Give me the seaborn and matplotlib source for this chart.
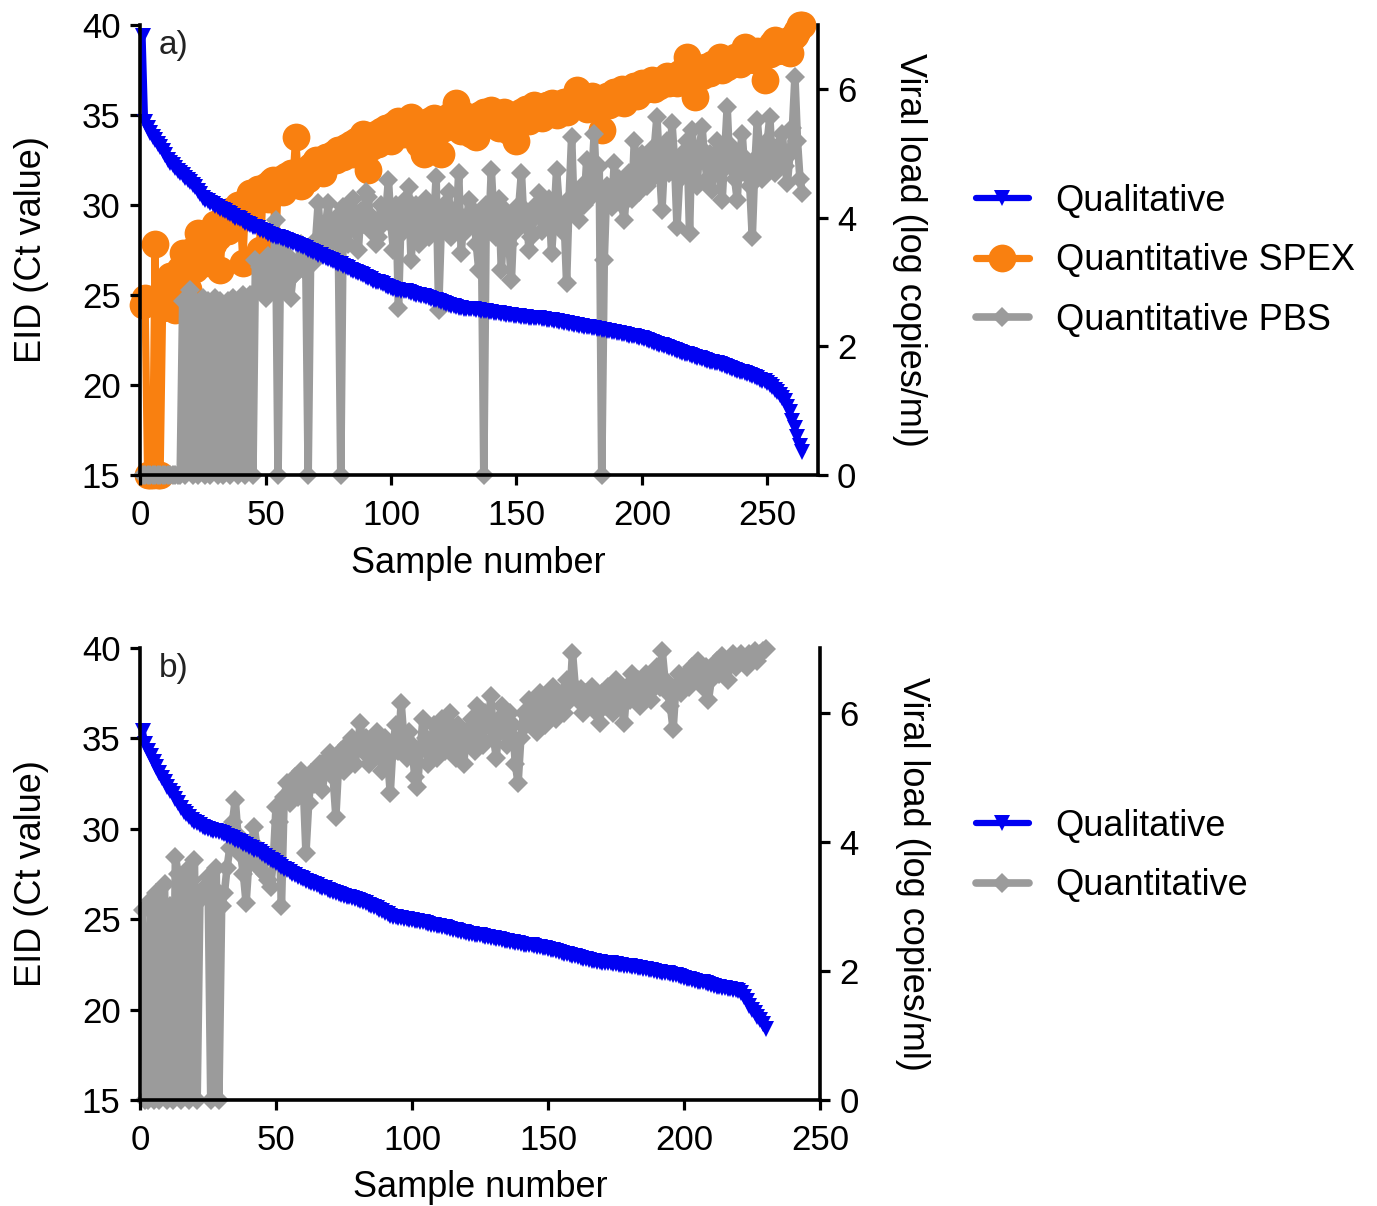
import numpy as np
import pandas as pd
import seaborn as sns
import matplotlib.pyplot as plt

# ---- panel a: 264 samples ----
# EID Ct value (left axis), sorted high to low
qual_a = [
    39.4, 34.6, 34.3, 34.0, 33.8, 33.6, 33.4, 33.2, 33.0, 32.8, 32.5,
    32.35, 32.2, 32.05, 31.9, 31.8, 31.65, 31.5, 31.4, 31.25, 31.1, 31.0, 30.8, 30.6, 30.4,
    30.3, 30.2, 30.1, 30.05, 29.95, 29.9, 29.8, 29.7, 29.65, 29.55, 29.5, 29.4, 29.3,
    29.25, 29.2, 29.1, 29.0, 28.95, 28.9, 28.8, 28.75, 28.7, 28.6, 28.55, 28.5, 28.4,
    28.35, 28.3, 28.25, 28.2, 28.15, 28.1, 28.05, 28.0, 27.95, 27.9, 27.85, 27.8, 27.7,
    27.65, 27.6, 27.5, 27.45, 27.4, 27.35, 27.25, 27.2, 27.1, 27.05, 27.0, 26.95, 26.9, 26.8,
    26.75, 26.7, 26.6, 26.55, 26.5, 26.4, 26.35, 26.3, 26.2, 26.15, 26.1, 26.0,
    25.95, 25.9, 25.8, 25.75, 25.7, 25.65, 25.6, 25.5, 25.45, 25.4,
    25.35, 25.3, 25.3, 25.25, 25.2, 25.2, 25.15, 25.1, 25.05, 25.0, 25.0, 24.95, 24.95, 24.9,
    24.85, 24.8, 24.75, 24.7, 24.65, 24.6, 24.55, 24.5, 24.45, 24.4, 24.4, 24.35, 24.3,
    24.3, 24.25, 24.25, 24.2, 24.2, 24.2, 24.15, 24.15, 24.1, 24.1, 24.1, 24.05, 24.05,
    24.0, 24.0, 24.0, 23.95, 23.95, 23.9, 23.9, 23.9, 23.85, 23.85, 23.85, 23.8, 23.8, 23.8,
    23.75, 23.75, 23.7, 23.7, 23.7, 23.65, 23.65, 23.6, 23.6, 23.6, 23.55, 23.55, 23.5,
    23.5, 23.45, 23.45, 23.4, 23.4, 23.35, 23.35, 23.3, 23.3, 23.25, 23.25, 23.2,
    23.15, 23.15, 23.1, 23.1, 23.05, 23.05, 23.0, 23.0, 22.95, 22.95, 22.9, 22.9, 22.85,
    22.85, 22.8, 22.75, 22.75, 22.7, 22.65, 22.6, 22.6, 22.55, 22.5, 22.45, 22.4,
    22.35, 22.3, 22.25, 22.2, 22.15, 22.1, 22.05, 22.0, 21.95, 21.9, 21.85, 21.8, 21.75,
    21.7, 21.65, 21.6, 21.55, 21.5, 21.5, 21.45, 21.4, 21.35, 21.3, 21.3, 21.25, 21.2,
    21.15, 21.1, 21.05, 21.0, 20.95, 20.9, 20.85, 20.8, 20.75, 20.7, 20.65, 20.6, 20.55,
    20.5, 20.45, 20.4, 20.3, 20.25, 20.2, 20.1,
    20.0, 19.9, 19.75, 19.6, 19.45, 19.3, 19.1, 18.8, 18.5, 18.0, 17.6, 17.1, 16.6, 16.3,
]
# viral load, log copies/ml (right axis)
spex_a = [
    2.65, 2.75, 0, 0, 0, 3.6, 0, 0, 2.6,
    2.75, 2.9, 3.1, 2.6, 2.57, 3.0, 3.2, 3.45, 3.1, 2.9, 3.3, 3.5, 3.2, 3.76, 3.4, 3.6, 3.3,
    3.5, 3.8, 3.6, 3.9,
    3.7, 3.19, 3.95, 4.0, 3.8, 4.1, 4.12, 3.9, 4.2, 4.0, 3.3, 4.25, 4.3, 4.39, 4.2, 4.35,
    4.45, 3.5, 4.4, 4.5, 4.3, 4.55, 4.59, 3.45, 4.5, 4.6, 4.4, 4.65, 4.55, 4.7,
    4.6, 5.26, 4.65, 4.5, 4.7, 4.74, 4.6, 4.8, 4.75, 4.9, 4.8, 4.85, 4.7, 4.95, 4.85, 4.9,
    5.0, 4.9, 5.05, 5.0, 4.95, 5.1, 5.05, 5.15, 5.0, 5.2, 5.1, 5.15, 5.3, 5.26,
    4.74, 5.1, 5.2, 5.3, 5.15, 5.35, 5.25, 5.4, 5.3, 5.2, 5.45, 5.35, 5.5, 5.4, 5.3, 5.45,
    5.5, 5.57, 5.4, 5.3, 5.15, 5.45, 5.0, 5.35, 5.5, 5.4, 5.55, 5.3, 5.45, 5.0,
    5.4, 5.55, 5.5, 5.6, 5.45, 5.79, 5.5, 5.35, 5.6, 5.45, 5.55, 5.3, 5.5, 5.26, 5.6, 5.5,
    5.65, 5.45, 5.55, 5.68, 5.5, 5.6, 5.4, 5.55, 5.65, 5.5, 5.35, 5.6, 5.45, 5.2,
    5.55, 5.65, 5.6, 5.7, 5.5, 5.65, 5.75, 5.6, 5.7, 5.55, 5.65, 5.75, 5.7, 5.78, 5.65, 5.6,
    5.75, 5.7, 5.8, 5.65, 5.75, 5.85, 5.8, 5.99, 5.75, 5.85, 5.78, 5.7, 5.8, 5.9,
    5.75, 5.85, 5.7, 5.37, 5.8, 5.9, 5.75, 5.85, 5.95, 5.8, 5.9, 6.0, 5.78, 5.9, 6.0, 5.95,
    6.05, 5.9, 6.0, 6.1, 6.05, 6.0, 6.1, 6.14, 6.0, 6.1, 6.05, 6.15, 6.1, 6.2,
    6.1, 6.15, 6.2, 6.1, 6.25, 6.2, 6.15, 6.5, 6.25, 6.2, 5.88, 6.3, 6.25, 6.2, 6.35, 6.3,
    6.25, 6.4, 6.3, 6.35, 6.5, 6.3, 6.4, 6.35, 6.45, 6.4, 6.5, 6.45, 6.4, 6.55,
    6.66, 6.45, 6.5, 6.55, 6.45, 6.6, 6.5, 6.55, 6.14, 6.6, 6.55, 6.7, 6.77, 6.6, 6.65, 6.7,
    6.6, 6.75, 6.56, 6.8, 6.85, 6.9, 7.0, 7.0,
]
pbs_a = [
    0, 0, 0, 0, 0, 0, 0, 0, 0, 0, 0, 0, 0, 0, 0, 0,
    2.7, 0, 2.65, 2.88, 0, 2.7, 0, 2.65, 2.75, 0, 2.7, 0, 2.6, 2.75, 0, 2.7, 0, 2.65, 2.7, 0,
    2.75, 2.7, 0, 2.7, 2.8, 0, 2.7,
    2.8, 0, 3.34, 2.9, 3.23, 3.0, 2.75, 3.4, 2.85, 3.1, 3.97, 0, 3.5, 2.9, 3.3, 3.4, 2.75,
    3.1, 3.14, 3.3, 3.6, 3.2, 3.5, 0, 3.45, 3.3, 3.65, 4.23, 3.7, 3.5, 3.9, 4.23, 3.6,
    3.8, 4.0, 3.7, 0, 4.17, 3.9, 3.6, 4.0, 4.3, 3.8, 3.5, 4.1, 3.9, 4.4,
    4.32, 3.8, 4.0, 3.6, 3.7, 4.2, 3.9, 4.1, 4.59, 3.9, 3.5, 4.2, 2.6, 4.0, 3.8, 4.3,
    4.48, 3.34, 3.9, 4.2, 3.6, 4.0, 3.8, 4.3, 3.7, 4.1, 3.9, 4.63, 2.57, 3.8, 4.2, 3.9,
    4.4, 3.7, 4.1, 3.9, 4.7, 3.45, 4.0, 3.8, 4.28, 3.9, 4.1, 3.6, 3.19, 4.0, 0,
    4.2, 3.8, 4.74, 4.0, 3.7, 4.3, 3.19, 3.9, 4.1, 3.6, 3.03, 4.0, 3.8, 4.2, 4.7, 3.9,
    4.1, 3.5, 3.7, 4.0, 4.2, 4.39, 3.8, 4.1, 3.9, 4.3, 3.45, 4.0, 4.74, 4.2, 3.8, 4.0,
    2.99, 4.3, 5.26, 4.1, 4.4, 3.97, 4.5, 4.2, 4.9, 4.3, 4.6, 5.3, 4.4, 4.8, 0,
    3.34, 4.5, 4.3, 4.17, 4.85, 4.4, 4.6, 4.2, 3.97, 4.5, 4.7, 4.3, 5.2, 4.6, 4.4, 5.0,
    4.7, 4.5, 4.9, 4.6, 5.1, 5.57, 4.8, 4.12, 4.9, 5.2, 4.7, 5.47, 4.9, 3.86, 4.6, 5.0,
    4.7, 5.2, 3.76, 5.37, 4.8, 4.5, 5.1, 5.41, 4.9, 4.6, 5.0, 4.43, 4.9, 5.2, 4.7, 4.28,
    5.0, 5.72, 4.8, 5.1, 4.6, 4.28, 5.0, 5.3, 4.7, 4.9, 4.5, 3.7, 4.8, 5.52, 5.0, 4.6,
    4.9, 5.2, 5.57, 4.8, 4.7, 5.1, 4.9, 5.3, 4.8, 4.54, 5.0, 5.4, 6.19, 5.2, 4.6, 4.39,
]

# ---- panel b: 230 samples ----
qual_b = [
    35.4, 34.7, 34.3, 34.0, 33.7, 33.4, 33.1, 32.8, 32.6, 32.3, 32.1,
    31.9, 31.65, 31.4, 31.15, 30.95, 30.8,
    30.65, 30.5, 30.4, 30.3, 30.2, 30.1,
    30.05, 30.0, 29.95, 29.9, 29.85, 29.8, 29.75, 29.7, 29.6, 29.55, 29.5, 29.4,
    29.3, 29.25, 29.15, 29.1, 29.0, 28.95, 28.85, 28.8, 28.7, 28.6, 28.5, 28.4,
    28.3, 28.2, 28.1, 28.0, 27.9, 27.8, 27.7, 27.6, 27.5, 27.45, 27.35, 27.3, 27.2,
    27.1, 27.05, 27.0, 26.95, 26.9, 26.8, 26.75, 26.7, 26.6, 26.55, 26.5, 26.45,
    26.4, 26.35, 26.3, 26.25, 26.2, 26.15, 26.1, 26.05, 26.0, 25.95, 25.9,
    25.8, 25.75, 25.7, 25.6, 25.5, 25.45, 25.35, 25.3, 25.2, 25.1,
    25.1, 25.05, 25.05, 25.0, 25.0, 24.95, 24.95, 24.9, 24.9, 24.85, 24.85, 24.8,
    24.75, 24.7, 24.7, 24.65, 24.6, 24.55, 24.55, 24.5, 24.45, 24.4, 24.4, 24.35, 24.3,
    24.3, 24.25, 24.2, 24.2, 24.15, 24.1, 24.1, 24.05, 24.0, 24.0, 23.95, 23.95,
    23.9, 23.9, 23.85, 23.8, 23.8, 23.75, 23.75, 23.7, 23.7, 23.65, 23.6, 23.6,
    23.55, 23.55, 23.5, 23.45, 23.45, 23.4, 23.4, 23.35, 23.3, 23.3, 23.25, 23.2,
    23.15, 23.1, 23.05, 23.0, 22.95, 22.95, 22.9, 22.85, 22.8, 22.8, 22.75,
    22.7, 22.7, 22.65, 22.65, 22.6, 22.6, 22.55, 22.55, 22.5, 22.5, 22.45,
    22.45, 22.4, 22.4, 22.4, 22.35, 22.35, 22.3, 22.3, 22.25, 22.25, 22.2, 22.2,
    22.15, 22.1, 22.1, 22.05, 22.0, 22.0, 21.95, 21.9, 21.9, 21.85, 21.8, 21.75,
    21.7, 21.7, 21.65, 21.6, 21.55, 21.5, 21.5, 21.45, 21.4, 21.35, 21.3, 21.25,
    21.25, 21.2, 21.2, 21.15, 21.15, 21.1, 21.1, 21.05,
    20.9, 20.7, 20.5, 20.2, 20.0, 19.8, 19.6, 19.4, 19.2, 18.9,
]
quant_b = [
    2.95, 0, 0, 3.1, 0, 3.2, 0, 3.05, 3.35, 0, 3.0, 0, 3.77, 3.5, 0, 3.1, 3.55, 0, 3.4,
    3.72, 0, 3.1, 3.25, 3.3, 3.45, 0, 3.3, 3.6, 0, 3.0, 3.2,
    3.6, 3.9, 4.3, 4.65, 4.1, 3.8, 3.5, 3.05, 3.7, 4.0, 4.23, 3.9, 3.57, 3.8, 3.5, 3.4,
    3.3, 3.7, 4.54, 4.3, 3.0, 4.7, 4.91, 4.6,
    4.8, 5.0, 4.7, 5.1, 4.9, 3.83, 4.6, 5.07, 4.9, 5.0, 5.2, 4.8, 5.1, 5.3, 5.38, 5.0,
    4.39, 5.2, 5.4, 5.1, 5.5, 5.3, 5.6, 5.2, 5.5,
    5.84, 5.4, 5.6, 5.2, 5.5, 5.3, 5.7, 5.4, 5.1, 5.6, 5.3, 4.76, 5.5, 5.8, 5.4, 6.15,
    5.6, 5.3, 5.7, 5.5, 5.0, 4.85, 5.4, 5.9, 5.6, 5.2, 5.5, 5.8, 5.3, 5.6, 5.9, 5.4,
    5.7, 6.0, 5.5, 5.3, 5.8, 5.6, 5.2, 5.7,
    5.6, 5.9, 5.4, 6.1, 5.7, 5.5, 6.0, 5.8, 6.25, 5.6, 5.3, 5.9, 6.1, 5.7, 5.5, 6.0,
    5.8, 5.2, 4.91, 5.6, 6.0, 5.8, 6.2, 5.9, 6.1, 5.7, 6.3, 6.0, 5.8, 6.2, 6.0, 6.4,
    5.9, 6.1, 6.3, 6.0, 6.5, 6.2, 6.93, 6.4,
    6.2, 6.36, 6.0, 6.3, 6.1, 6.4, 6.2, 6.0, 5.84, 6.3, 6.1, 6.4, 6.2, 6.0, 6.5, 6.3,
    6.1, 5.84, 6.4, 6.2, 6.6, 6.3, 6.5, 6.1, 6.4, 6.6, 6.3, 6.2, 6.5, 6.7, 6.4, 6.95,
    6.5, 6.3, 6.1, 5.74, 6.4, 6.6, 6.3, 6.5,
    6.6, 6.4, 6.7, 6.5, 6.8, 6.6, 6.4, 6.7, 6.2, 6.5, 6.7, 6.8, 6.6, 6.87, 6.7, 6.5,
    6.8, 6.9, 6.7, 6.85, 6.9, 6.8, 6.7, 6.9, 6.87, 6.95, 6.8, 6.9, 6.95, 6.98,
]

BLUE = '#0000f2'
ORANGE = '#f98010'
GREY = '#9b9b9b'
FS = 25


def series_df(vals):
    return pd.DataFrame({'sample': np.arange(1, len(vals) + 1), 'value': vals})


def draw_panel(ax, ct, loads, xmax, tag, legend_y):
    ax2 = ax.twinx()
    for vals, name, color, marker, ms, lw in loads:
        sns.lineplot(data=series_df(vals), x='sample', y='value', ax=ax2, color=color,
                     marker=marker, markersize=ms, markeredgewidth=0, linewidth=lw,
                     estimator=None, label=name, legend=False, clip_on=False)
    sns.lineplot(data=series_df(ct), x='sample', y='value', ax=ax, color=BLUE,
                 marker='v', markersize=12, markeredgewidth=0, linewidth=4.5,
                 estimator=None, label='Qualitative', legend=False, clip_on=False)

    # blue Ct curve drawn above the viral load series
    ax.set_zorder(ax2.get_zorder() + 1)
    ax.patch.set_visible(False)

    ax.set_xlim(0, xmax)
    ax.set_xticks(range(0, 251, 50))
    ax.set_ylim(15, 40)
    ax.set_yticks(range(15, 41, 5))
    ax2.set_ylim(0, 7)
    ax2.set_yticks([0, 2, 4, 6])

    ax.set_xlabel('Sample number', fontsize=FS + 1, labelpad=10)
    ax.set_ylabel('EID (Ct value)', fontsize=FS + 1, labelpad=24)
    ax2.set_ylabel('Viral load (log copies/ml)', fontsize=FS + 1, rotation=270,
                   va='bottom', labelpad=26)

    for a in (ax, ax2):
        a.tick_params(labelsize=FS, length=7, width=2.3, direction='out',
                      colors='black')
        a.tick_params(axis='x', pad=10)
        a.tick_params(axis='y', pad=7)
        a.spines['top'].set_visible(False)
        for s in a.spines.values():
            s.set_linewidth(2.6)
            s.set_color('black')
    ax.spines['right'].set_visible(False)
    ax2.spines['left'].set_visible(False)
    ax2.spines['bottom'].set_visible(False)

    ax.text(0.028, 0.955, tag, transform=ax.transAxes, fontsize=FS - 1,
            ha='left', va='center', color='#222222')

    h1, l1 = ax.get_legend_handles_labels()
    h2, l2 = ax2.get_legend_handles_labels()
    ax.figure.legend(h1 + h2, l1 + l2, loc='center left',
                     bbox_to_anchor=(0.709, legend_y), frameon=False,
                     fontsize=FS + 1, handlelength=1.45, handletextpad=0.75,
                     labelspacing=0.68, borderaxespad=0, borderpad=0)


sns.set_style('ticks')
plt.rcParams['font.family'] = ['Liberation Sans', 'DejaVu Sans']
plt.rcParams['text.color'] = 'black'
plt.rcParams['axes.labelcolor'] = 'black'

fig = plt.figure(figsize=(13.77, 12.06), dpi=100)
ax_a = fig.add_axes([0.1017, 0.6061, 0.4920, 0.3732])
ax_b = fig.add_axes([0.1017, 0.0879, 0.4938, 0.3748])

draw_panel(ax_a, qual_a,
           [(spex_a, 'Quantitative SPEX', ORANGE, 'o', 20, 5.2),
            (pbs_a, 'Quantitative PBS', GREY, 'D', 10, 5.5)],
           270, 'a)', 1 - 261 / 1206)
draw_panel(ax_b, qual_b,
           [(quant_b, 'Quantitative', GREY, 'D', 10, 5.5)],
           250, 'b)', 1 - 856 / 1206)

fig.savefig('out.png', dpi=100)
